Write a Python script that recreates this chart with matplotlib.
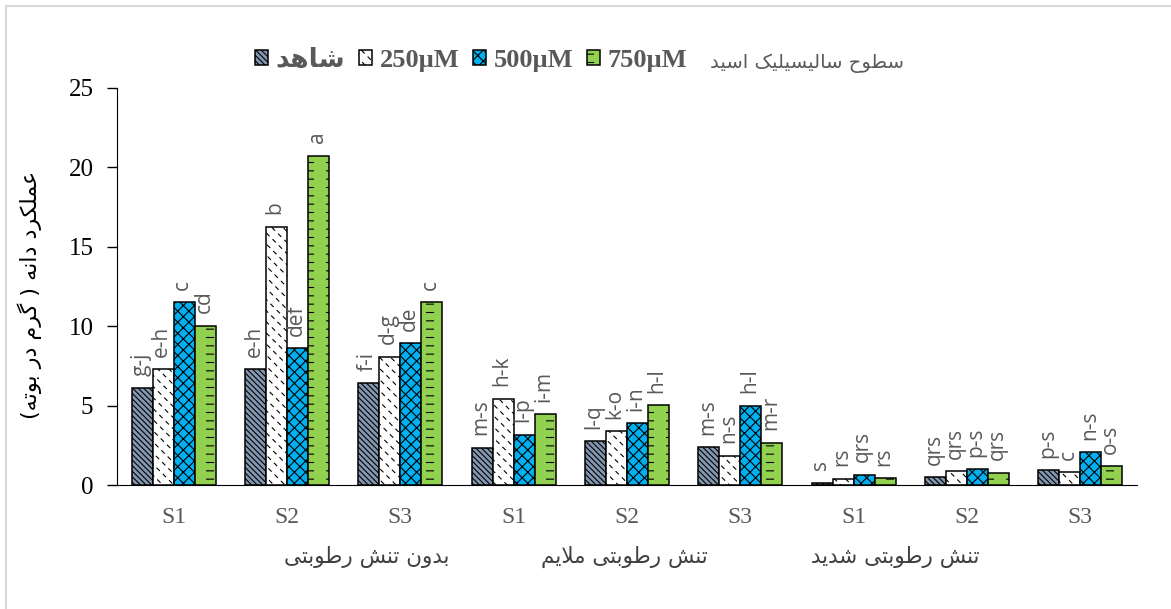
import numpy as np
import matplotlib
matplotlib.use("Agg")
import matplotlib.pyplot as plt
import matplotlib.hatch as mhatch
import matplotlib.transforms as mtransforms
from matplotlib.path import Path
from matplotlib.patches import Patch, Rectangle
from matplotlib import font_manager
from matplotlib.ft2font import FT2Font

# data
groups = ['S1', 'S2', 'S3', 'S1', 'S2', 'S3', 'S1', 'S2', 'S3']
stress = ['بدون تنش رطوبتی', 'تنش رطوبتی ملایم', 'تنش رطوبتی شدید']
series_names = ['شاهد', '250µM', '500µM', '750µM']

control = [6.10, 7.30, 6.42, 2.35, 2.77, 2.39, 0.15, 0.48, 0.94]
sa250 = [7.28, 16.27, 8.08, 5.42, 3.38, 1.83, 0.38, 0.86, 0.80]
sa500 = [11.50, 8.60, 8.92, 3.15, 3.88, 5.00, 0.63, 1.00, 2.06]
sa750 = [10.03, 20.72, 11.50, 4.47, 5.02, 2.67, 0.42, 0.78, 1.18]

let_control = ['g-j', 'e-h', 'f-i', 'm-s', 'l-q', 'm-s', 's', 'qrs', 'p-s']
let_250 = ['e-h', 'b', 'd-g', 'h-k', 'k-o', 'n-s', 'rs', 'qrs', 'c']
let_500 = ['c', 'def', 'de', 'l-p', 'i-n', 'h-l', 'qrs', 'p-s', 'n-s']
let_750 = ['cd', 'a', 'c', 'i-m', 'h-l', 'm-r', 'rs', 'qrs', 'o-s']

#region arabic shaping (matplotlib has no bidi / joining)
FORMS = {
    'ا': (0xFE8D, 0xFE8E), 'د': (0xFEA9, 0xFEAA), 'ر': (0xFEAD, 0xFEAE),
    'و': (0xFEED, 0xFEEE), 'ة': (0xFE93, 0xFE94),
    'ب': (0xFE8F, 0xFE90, 0xFE91, 0xFE92), 'ت': (0xFE95, 0xFE96, 0xFE97, 0xFE98),
    'ح': (0xFEA1, 0xFEA2, 0xFEA3, 0xFEA4), 'س': (0xFEB1, 0xFEB2, 0xFEB3, 0xFEB4),
    'ش': (0xFEB5, 0xFEB6, 0xFEB7, 0xFEB8), 'ط': (0xFEC1, 0xFEC2, 0xFEC3, 0xFEC4),
    'ع': (0xFEC9, 0xFECA, 0xFECB, 0xFECC), 'ک': (0xFB8E, 0xFB8F, 0xFB90, 0xFB91),
    'گ': (0xFB92, 0xFB93, 0xFB94, 0xFB95), 'ل': (0xFEDD, 0xFEDE, 0xFEDF, 0xFEE0),
    'م': (0xFEE1, 0xFEE2, 0xFEE3, 0xFEE4), 'ن': (0xFEE5, 0xFEE6, 0xFEE7, 0xFEE8),
    'ه': (0xFEE9, 0xFEEA, 0xFEEB, 0xFEEC), 'ی': (0xFBFC, 0xFBFD, 0xFBFE, 0xFBFF),
}
cmap = FT2Font(font_manager.findfont('DejaVu Sans')).get_charmap()
if 0xFB8E not in cmap:
    FORMS['ک'] = (0xFED9, 0xFEDA, 0xFEDB, 0xFEDC)
if 0xFB92 not in cmap:
    FORMS['گ'] = (0xFED9, 0xFEDA, 0xFEDB, 0xFEDC)
if 0xFBFC not in cmap:
    FORMS['ی'] = (0xFEEF, 0xFEF0, 0xFEF3, 0xFEF4)


def shape(s):
    if not any(c in FORMS for c in s):
        return s
    out = []
    i = 0
    while i < len(s):
        c = s[i]
        if c not in FORMS:
            out.append(c)
            i += 1
            continue
        prev_join = i > 0 and len(FORMS.get(s[i - 1], ())) == 4
        if c == 'ل' and i + 1 < len(s) and s[i + 1] == 'ا':
            out.append(chr(0xFEFC if prev_join else 0xFEFB))
            i += 2
            continue
        f = FORMS[c]
        next_join = len(f) == 4 and i + 1 < len(s) and s[i + 1] in FORMS
        if prev_join and next_join:
            g = f[3]
        elif prev_join:
            g = f[1]
        elif next_join:
            g = f[2]
        else:
            g = f[0]
        out.append(chr(g))
        i += 1
    return ''.join(reversed(out)).translate(str.maketrans('()', ')('))
#endregion

#region excel-like hatches: '-' -> short dashes, 'o' -> dashed diagonals
class DashRows(mhatch.HatchPatternBase):
    def __init__(self, hatch, density):
        self.rows = int(hatch.count('-') * density)
        self.cols = 5
        self.num_vertices = self.rows * self.cols * 2

    def set_vertices_and_codes(self, vertices, codes):
        xs = (np.arange(self.cols) + 0.5) / self.cols
        ys = (np.arange(self.rows) + 0.5) / self.rows
        X, Y = np.meshgrid(xs, ys)
        X, Y = X.ravel(), Y.ravel()
        vertices[0::2, 0] = X - 0.035
        vertices[0::2, 1] = Y
        vertices[1::2, 0] = X + 0.035
        vertices[1::2, 1] = Y
        codes[0::2] = Path.MOVETO
        codes[1::2] = Path.LINETO


class DashDiag(mhatch.HatchPatternBase):
    def __init__(self, hatch, density):
        self.lines = int(hatch.count('o') * density)
        self.segs = 16
        self.num_vertices = (self.lines + 1) * self.segs * 2 if self.lines else 0

    def set_vertices_and_codes(self, vertices, codes):
        steps = np.linspace(-0.5, 0.5, self.lines + 1)
        ta = np.arange(self.segs) / self.segs
        tb = ta + 0.4 / self.segs
        S, TA = np.meshgrid(steps, ta)
        _, TB = np.meshgrid(steps, tb)
        S, TA, TB = S.ravel(), TA.ravel(), TB.ravel()
        vertices[0::2, 0] = S + TA
        vertices[0::2, 1] = 1 + S - TA
        vertices[1::2, 0] = S + TB
        vertices[1::2, 1] = 1 + S - TB
        codes[0::2] = Path.MOVETO
        codes[1::2] = Path.LINETO


mhatch._hatch_types[:] = [DashRows if t is mhatch.HorizontalHatch else
                          DashDiag if t is mhatch.SmallCircles else t
                          for t in mhatch._hatch_types]
#endregion

plt.rcParams['hatch.linewidth'] = 0.8
serif = ['Liberation Serif', 'DejaVu Sans']
gray = '#595959'

fig = plt.figure(figsize=(11.71, 6.09), dpi=100)
ax = fig.add_axes([117 / 1171, 1 - 485 / 609, 1020 / 1171, 397 / 609])

# light frame of the chart area
fig.add_artist(Rectangle((6 / 1171, -0.1), 1.2, 1 - 6 / 609 + 0.1, transform=fig.transFigure,
                         facecolor='none', edgecolor='#D9D9D9', lw=1.5))

x = np.arange(len(groups))
w = 0.186
values = [control, sa250, sa500, sa750]
letters = [let_control, let_250, let_500, let_750]
colors = ['#8497B0', 'white', '#00B0F0', '#92D050']
hatches = ['\\\\\\\\\\\\', 'ooo', 'xxx', '--']

handles = []
for k in range(4):
    xs = x + (k - 1.5) * w
    ax.bar(xs, values[k], width=w, color=colors[k], edgecolor='black',
           linewidth=1.1, hatch=hatches[k], zorder=2)
    for xi, yi, t in zip(xs, values[k], letters[k]):
        ax.annotate(t, (xi, yi), xytext=(-1, 9), textcoords='offset points',
                    rotation=90, ha='center', va='bottom', fontsize=15,
                    color=gray, family='Open Sans')
    handles.append(Patch(facecolor=colors[k], edgecolor='black', linewidth=1.1, hatch=hatches[k]))

ax.set_xlim(-0.5, len(groups) - 0.5)
ax.set_ylim(0, 25)
ax.set_yticks(np.arange(0, 26, 5))
ax.tick_params(axis='y', direction='out', length=7, width=1, labelsize=18, pad=10)
for lab in ax.get_yticklabels():
    lab.set_family(serif)
ax.set_xticks(x)
ax.set_xticklabels(groups, family=serif, fontsize=17, color=gray)
ax.tick_params(axis='x', length=0, pad=16)
ax.spines['top'].set_visible(False)
ax.spines['right'].set_visible(False)

# stress level labels under the S1..S3 ticks
trans = mtransforms.blended_transform_factory(ax.transData, fig.transFigure)
for pos, name in zip([1.70, 3.98, 6.37], stress):
    ax.text(pos, 1 - 557 / 609, shape(name), transform=trans, ha='center', va='center',
            fontsize=15.5, color='#404040', family='DejaVu Sans')

fig.text(30 / 1171, 1 - 295 / 609, shape('عملکرد دانه ( گرم در بوته)'), rotation=90,
         ha='center', va='center', fontsize=16, family='DejaVu Sans')

leg = fig.legend(handles, [shape(n) for n in series_names], loc='center',
                 bbox_to_anchor=(471 / 1171, 1 - 60 / 609), ncol=4, frameon=False,
                 prop={'family': serif, 'weight': 'bold', 'size': 19},
                 handlelength=0.5, handleheight=0.5, handletextpad=0.3, columnspacing=0.5,
                 borderpad=0.2)
for t in leg.get_texts():
    t.set_color(gray)
fig.text(807 / 1171, 1 - 63 / 609, shape('سطوح سالیسیلیک اسید'), ha='center', va='center',
         fontsize=14, color=gray, family='DejaVu Sans')

fig.savefig('out.png', dpi=100)
